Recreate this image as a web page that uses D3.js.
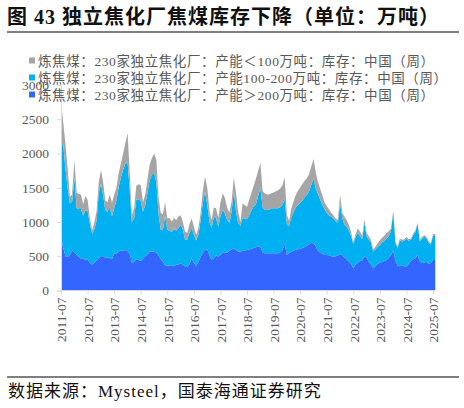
<!DOCTYPE html>
<html><head><meta charset="utf-8">
<script src="https://cdn.jsdelivr.net/npm/d3@7/dist/d3.min.js"></script>
<style>
html,body{margin:0;padding:0;background:#fff;}
svg{display:block;}
</style></head>
<body>
<svg id="c" width="464" height="408"></svg>
<script>
// ---- data (monthly, 2011-07 .. 2025-08), unit: 万吨 ----
const startMonth = "2011-07";
const endMonth = "2025-08";
const seriesNames = [
  "炼焦煤：230家独立焦化厂：产能＜100万吨：库存：中国（周）",
  "炼焦煤：230家独立焦化厂：产能100-200万吨：库存：中国（周）",
  "炼焦煤：230家独立焦化厂：产能＞200万吨：库存：中国（周）"
];
const seriesColors = ["#A5A5A5", "#00B0F0", "#3366FF"];
const over200 = [
760,620,500,490,520,585,560,520,490,460,
465,450,455,405,380,410,440,475,505,500,
475,480,470,460,535,540,570,580,580,590,
575,535,405,420,460,445,430,465,495,530,
565,570,570,550,520,460,425,370,365,365,
370,355,380,380,395,380,350,340,385,470,
400,360,420,485,550,590,600,510,445,475,
510,495,520,560,560,550,580,600,615,590,
570,570,580,585,590,600,610,620,635,640,
640,560,545,545,545,545,545,545,545,555,
590,680,520,550,565,580,595,600,610,620,
635,655,680,695,690,645,580,555,540,520,
520,515,500,495,500,510,530,520,480,455,
425,390,325,375,410,430,440,500,480,415,
380,325,355,390,405,415,430,445,475,520,
585,430,360,355,370,355,350,390,430,455,
470,520,420,405,405,420,390,400,445,445];
const from100to200 = [
1390,1505,1270,1000,750,715,1090,680,700,730,
625,720,705,565,450,480,580,945,1055,880,
695,670,750,620,665,770,940,1070,1180,1260,
1305,915,595,630,870,885,880,685,755,890,
1045,1120,1150,1025,620,430,455,720,525,505,
490,540,495,530,565,510,390,400,455,440,
410,370,390,535,730,850,650,490,465,605,
550,440,560,620,560,480,410,550,835,550,
420,370,480,465,450,500,560,610,625,740,
860,650,635,630,635,655,655,655,655,660,
660,660,435,400,500,560,615,645,670,690,
730,740,770,850,940,845,830,775,715,665,
615,580,580,555,510,470,740,530,480,475,
455,410,355,405,430,370,310,480,310,325,
320,245,245,250,260,285,295,315,315,350,
555,260,260,380,345,370,410,335,310,350,
385,455,295,355,375,345,310,270,355,365];
const under100 = [
600,325,360,280,100,100,250,230,220,210,
170,210,160,80,50,100,140,160,200,190,
140,140,180,200,200,190,200,200,240,300,
420,250,100,150,200,220,230,140,150,200,
230,240,280,335,240,250,230,200,160,190,
145,165,155,170,140,110,120,100,130,140,
120,80,100,110,180,220,250,150,120,130,
140,125,200,240,230,180,150,150,200,280,
160,60,210,200,180,230,260,300,370,370,
360,240,240,225,220,220,230,250,265,275,
290,310,145,70,135,160,180,210,225,245,
240,245,250,265,290,230,180,160,135,105,
100,90,55,50,40,50,120,80,120,100,
80,50,20,40,70,60,50,60,50,50,
40,25,40,50,70,70,75,75,75,30,
20,20,20,25,25,25,25,25,20,25,
25,15,25,20,25,25,20,20,20,20];
const xTickLabels = ["2011-07","2012-07","2013-07","2014-07","2015-07","2016-07","2017-07","2018-07","2019-07","2020-07","2021-07","2022-07","2023-07","2024-07","2025-07"];
const yTicks = [0,500,1000,1500,2000,2500,3000];

// ---- build ----
const parseM = d3.timeParse("%Y-%m");
const months = d3.timeMonth.range(parseM(startMonth), d3.timeMonth.offset(parseM(endMonth), 1));
const table = months.map((d, i) => ({date: d, big: over200[i], mid: from100to200[i], small: under100[i]}));

const svg = d3.select("#c");
const serif = "'Liberation Serif','Times New Roman','Noto Sans CJK SC',serif";

const x = d3.scaleTime().domain([parseM("2011-07"), parseM("2025-07")]).range([61, 433]);
const y = d3.scaleLinear().domain([0, 3000]).range([290.5, 85]);

const stack = d3.stack().keys(["big", "mid", "small"]);
const layers = stack(table);
const colorByKey = {big: seriesColors[2], mid: seriesColors[1], small: seriesColors[0]};
const area = d3.area().x(d => x(d.data.date)).y0(d => y(d[0])).y1(d => y(d[1]));

svg.append("g").selectAll("path").data(layers).join("path")
  .attr("d", area).attr("fill", d => colorByKey[d.key]).attr("stroke", "none");

// y axis
const yAxis = svg.append("g").attr("transform", "translate(61,0)")
  .call(d3.axisLeft(y).tickValues(yTicks).tickSize(4).tickPadding(8).tickFormat(d3.format("d")));
yAxis.select(".domain").attr("stroke", "#d9d9d9");
yAxis.selectAll(".tick line").attr("stroke", "#d9d9d9");
yAxis.selectAll("text").attr("fill", "#595959").style("font-family", serif).style("font-size", "13.5px");

// x axis
const xAxis = svg.append("g").attr("transform", "translate(0,290.5)")
  .call(d3.axisBottom(x).tickValues(xTickLabels.map(parseM)).tickSize(4).tickFormat(d3.timeFormat("%Y-%m")));
xAxis.select(".domain").attr("stroke", "#d9d9d9").attr("d", "M61,0H435");
xAxis.selectAll(".tick line").attr("stroke", "#d9d9d9");
xAxis.selectAll("text").attr("fill", "#595959").style("font-family", serif).style("font-size", "13.5px")
  .attr("text-anchor", "end").attr("transform", "rotate(-90)").attr("x", -7).attr("y", 0).attr("dy", "0.35em");

// legend
const legY = [61, 78, 95];
seriesNames.forEach((n, i) => {
  svg.append("rect").attr("x", 29).attr("y", legY[i] - 3.5).attr("width", 6).attr("height", 6).attr("fill", seriesColors[i]);
  svg.append("text").attr("x", 38).attr("y", legY[i]).attr("dy", "0.35em")
    .attr("fill", "#595959").style("font-family", serif).style("font-size", "13.5px")
    .style("letter-spacing", "0.6px").text(n);
});

// title
svg.append("text").attr("x", 7).attr("y", 24).attr("fill", "#111")
  .style("font-family", serif).style("font-size", "20px").style("font-weight", "bold")
  .style("letter-spacing", "1px")
  .text("图 43 独立焦化厂焦煤库存下降（单位：万吨）");
svg.append("line").attr("x1", 7).attr("x2", 459).attr("y1", 32).attr("y2", 32).attr("stroke", "#7f7f7f").attr("stroke-width", 2);

// footer
svg.append("line").attr("x1", 7).attr("x2", 459).attr("y1", 377).attr("y2", 377).attr("stroke", "#000").attr("stroke-width", 1.2);
svg.append("text").attr("x", 8).attr("y", 397).attr("fill", "#111")
  .style("font-family", serif).style("font-size", "17px").style("letter-spacing", "1px")
  .text("数据来源：Mysteel，国泰海通证券研究");
</script>
</body></html>
